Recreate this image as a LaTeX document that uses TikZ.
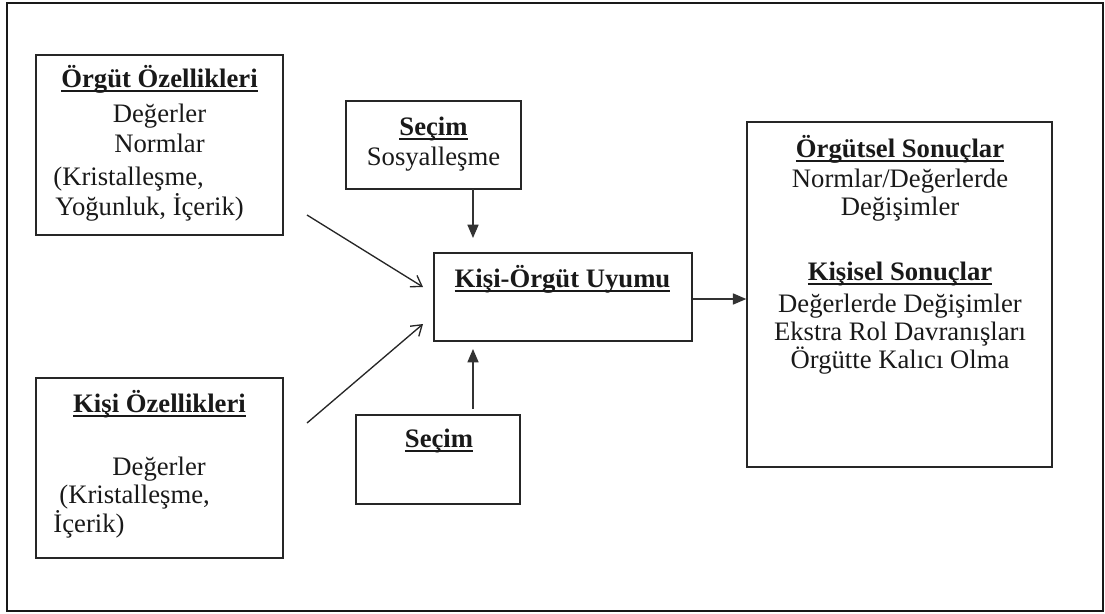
\documentclass[tikz,border=0pt]{standalone}
\usepackage{fontspec}
\setmainfont{Liberation Serif}
\usetikzlibrary{fit,arrows.meta}
\newcommand\ulb[1]{\setbox0=\hbox{\bfseries #1}\rlap{\rule[-2.1pt]{\wd0}{0.85pt}}\box0}
\begin{document}
\begin{tikzpicture}[x=0.45pt,y=-0.45pt,
  box/.style={draw=black!85,line width=0.65pt,inner sep=0pt},
  txt/.style={inner sep=0pt,font=\fontsize{12}{14}\selectfont,text=black!90},
  farr/.style={draw=black!80,line width=0.55pt,-{Triangle[length=6pt,width=5pt]}},
  oarr/.style={draw=black!85,line width=0.6pt,-{Straight Barb[length=4.5pt,width=6pt]}}]
\useasboundingbox (0,0) rectangle (1105,613);
\draw[line width=1pt,black!90] (7,3) rectangle (1103,611);
% boxes
\node[box,fit={(36,55)(283,235)}] (b1) {};
\node[box,fit={(36,378)(283,558)}] (b2) {};
\node[box,fit={(346,101)(521,189)}] (s1) {};
\node[box,fit={(434,253)(692,341)}] (c) {};
\node[box,fit={(356,415)(520,504)}] (s2) {};
\node[box,fit={(747,122)(1052,467)}] (r) {};
% box 1 text
\node[txt,anchor=base] (b1a) at (159.5,87) {\ulb{Örgüt Özellikleri}};
\node[txt,anchor=base] (b1b) at (159.5,122) {Değerler};
\node[txt,anchor=base] (b1c) at (159.5,152) {Normlar};
\node[txt,anchor=base west] (b1d) at (53,185) {(Kristalleşme,};
\node[txt,anchor=base west] (b1e) at (55,215) {Yoğunluk, İçerik)};
% box 2 text
\node[txt,anchor=base] (b2a) at (159.5,412) {\ulb{Kişi Özellikleri}};
\node[txt,anchor=base west] (b2b) at (112,475) {Değerler};
\node[txt,anchor=base west] (b2c) at (59,503) {(Kristalleşme,};
\node[txt,anchor=base west] (b2d) at (53,532) {İçerik)};
% selection boxes
\node[txt,anchor=base] (s1a) at (433.5,135) {\ulb{Seçim}};
\node[txt,anchor=base] (s1b) at (433.5,165) {Sosyalleşme};
\node[txt,anchor=base] (s2a) at (439,447) {\ulb{Seçim}};
% center
\node[txt,anchor=base] (ca) at (562.5,287) {\ulb{Kişi-Örgüt Uyumu}};
% right box
\node[txt,anchor=base] (r1) at (900,157) {\ulb{Örgütsel Sonuçlar}};
\node[txt,anchor=base] (r2) at (900,187) {Normlar/Değerlerde};
\node[txt,anchor=base] (r3) at (900,215) {Değişimler};
\node[txt,anchor=base] (r4) at (900,280) {\ulb{Kişisel Sonuçlar}};
\node[txt,anchor=base] (r5) at (900,312) {Değerlerde Değişimler};
\node[txt,anchor=base] (r6) at (900,340) {Ekstra Rol Davranışları};
\node[txt,anchor=base] (r7) at (900,368) {Örgütte Kalıcı Olma};
% connector ends
\coordinate (p1a) at (473,189);
\coordinate (p1b) at (473,238);
\coordinate (p2a) at (473,409);
\coordinate (p2b) at (473,349);
\coordinate (d1a) at (307,215);
\coordinate (d1b) at (423,287);
\coordinate (d2a) at (307,423);
\coordinate (d2b) at (423,324);
\draw[farr] (p1a) -- (p1b);
\draw[farr] (p2a) -- (p2b);
\draw[farr] (c.east |- 0,299) -- (r.west |- 0,299);
\draw[oarr] (d1a) -- (d1b);
\draw[oarr] (d2a) -- (d2b);
\end{tikzpicture}
\end{document}
